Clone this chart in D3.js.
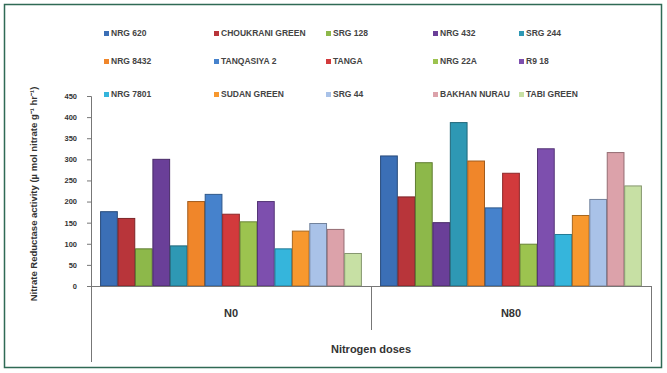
<!DOCTYPE html>
<html>
<head>
<meta charset="utf-8">
<script src="https://cdn.jsdelivr.net/npm/d3@7"></script>
<style>
  html, body { margin: 0; padding: 0; background: #fff; }
  svg { display: block; }
  text { font-family: "Liberation Sans", Arial, sans-serif; }
</style>
</head>
<body>
<svg id="chart" width="667" height="373"></svg>
<script>
// Nitrogen dose categories
const doses = ["N0", "N80"];

// Genotypes (series), in legend order
const genotypes = [
  "NRG 620", "CHOUKRANI GREEN", "SRG 128", "NRG 432", "SRG 244",
  "NRG 8432", "TANQASIYA 2", "TANGA", "NRG 22A", "R9 18",
  "NRG 7801", "SUDAN GREEN", "SRG 44", "BAKHAN NURAU", "TABI GREEN"
];

// Nitrate reductase activity per genotype at each dose
const valuesN0  = [176, 160, 88, 300, 95, 200, 217, 170, 152, 200, 88, 130, 148, 134, 77];
const valuesN80 = [308, 211, 292, 150, 387, 296, 185, 267, 99, 325, 122, 167, 205, 316, 237];

// y-axis tick values
const yTicks = [0, 50, 100, 150, 200, 250, 300, 350, 400, 450];

// Series fill colours
const colors = [
  "#3b6fb6", "#b8353a", "#8db84a", "#6a3f98", "#2e98b4",
  "#f0862a", "#4682cc", "#d23a3c", "#9cc34f", "#7d4fae",
  "#35b5dc", "#f7982e", "#a9c2e8", "#dca2aa", "#c7e0a4"
];

const svg = d3.select("#chart");

// Outer frame
svg.append("rect")
  .attr("x", 4.5).attr("y", 4.5)
  .attr("width", 657).attr("height", 363)
  .attr("fill", "#fff")
  .attr("stroke", "#2f6a55")
  .attr("stroke-width", 1.5);

const plotLeft = 91, plotRight = 651, plotTop = 96, plotBottom = 286;

const x0 = d3.scaleBand().domain(doses).range([plotLeft, plotRight]).paddingInner(0).paddingOuter(0);
const x1 = d3.scaleBand().domain(d3.range(genotypes.length))
  .range([0, x0.bandwidth()]).paddingOuter(0.55).paddingInner(0.04);
const y = d3.scaleLinear().domain([0, 450]).range([plotBottom, plotTop]);

const data = doses.map((d, i) => ({
  dose: d,
  values: (i === 0 ? valuesN0 : valuesN80).map((v, j) => ({ j, v }))
}));

// Bars
const groups = svg.append("g").selectAll("g").data(data).join("g")
  .attr("transform", d => `translate(${x0(d.dose)},0)`);

groups.selectAll("rect").data(d => d.values).join("rect")
  .attr("x", d => x1(d.j))
  .attr("y", d => y(d.v))
  .attr("width", x1.bandwidth())
  .attr("height", d => y(0) - y(d.v))
  .attr("fill", d => colors[d.j])
  .attr("stroke", d => d3.color(colors[d.j]).darker(1.1))
  .attr("stroke-width", 1);

// y axis
const yAxis = d3.axisLeft(y).tickValues(yTicks).tickSize(4).tickPadding(10);
const gy = svg.append("g").attr("transform", `translate(${plotLeft},0)`).call(yAxis);
gy.select(".domain").attr("stroke", "#777");
gy.selectAll(".tick line").attr("stroke", "#777");
gy.selectAll(".tick text")
  .attr("font-size", 7.5).attr("font-weight", "bold").attr("fill", "#333");

// x axis baseline and category dividers
const axisG = svg.append("g").attr("stroke", "#777").attr("stroke-width", 1);
axisG.append("line").attr("x1", plotLeft).attr("x2", plotRight).attr("y1", plotBottom + 0.5).attr("y2", plotBottom + 0.5);
axisG.append("line").attr("x1", plotLeft + 0.5).attr("x2", plotLeft + 0.5).attr("y1", plotBottom).attr("y2", 362);
axisG.append("line").attr("x1", plotRight + 0.5).attr("x2", plotRight + 0.5).attr("y1", plotBottom).attr("y2", 362);
axisG.append("line").attr("x1", x0("N80") + 0.5).attr("x2", x0("N80") + 0.5).attr("y1", plotBottom).attr("y2", 330);

// Category labels
svg.append("g").selectAll("text").data(doses).join("text")
  .attr("x", d => x0(d) + x0.bandwidth() / 2)
  .attr("y", 317)
  .attr("text-anchor", "middle")
  .attr("font-size", 11).attr("font-weight", "bold").attr("fill", "#333")
  .text(d => d);

// x-axis title
svg.append("text")
  .attr("x", (plotLeft + plotRight) / 2).attr("y", 353)
  .attr("text-anchor", "middle")
  .attr("font-size", 11).attr("font-weight", "bold").attr("fill", "#333")
  .text("Nitrogen doses");

// y-axis title
svg.append("text")
  .attr("transform", "translate(37,194) rotate(-90)")
  .attr("text-anchor", "middle")
  .attr("font-size", 9.5).attr("font-weight", "bold").attr("fill", "#333")
  .text("Nitrate Reductase activity (\u00b5 mol nitrate g\u207b\u00b9 hr\u207b\u00b9)");

// Legend: 5 columns x 3 rows
const colX = [104, 214, 326, 433, 519];
const rowY = [36, 64, 97];
const leg = svg.append("g").selectAll("g").data(genotypes).join("g")
  .attr("transform", (d, i) => `translate(${colX[i % 5]},${rowY[Math.floor(i / 5)]})`);
leg.append("rect")
  .attr("x", 0).attr("y", -5).attr("width", 5).attr("height", 5)
  .attr("fill", (d, i) => colors[i]);
leg.append("text")
  .attr("x", 7).attr("y", 0)
  .attr("font-size", 8.5).attr("font-weight", "bold").attr("fill", "#444")
  .text(d => d);
</script>
</body>
</html>
